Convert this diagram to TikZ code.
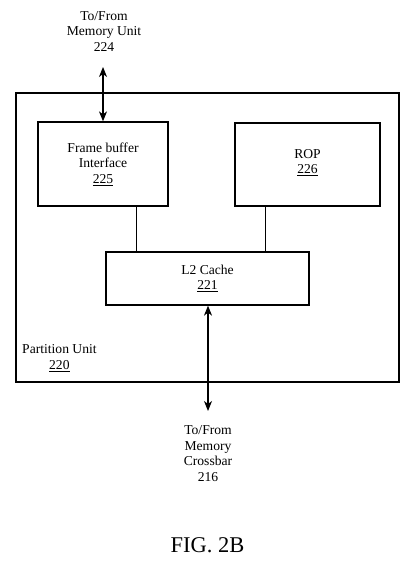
\documentclass[tikz,border=0pt]{standalone}
\usepackage{fontspec}
\setmainfont{Liberation Serif}
\usetikzlibrary{arrows.meta}
\begin{document}
\begin{tikzpicture}[x=1pt,y=-1pt,
  every node/.style={font=\fontsize{13.6}{15.5}\selectfont, align=center, inner sep=0pt},
  blk/.style={draw, line width=1.3pt, minimum width=#1},
  link/.style={line width=0.9pt},
  biarrow/.style={line width=1.1pt, {Stealth[length=10pt,width=8pt,inset=3pt]}-{Stealth[length=10pt,width=8pt,inset=3pt]}}]
\useasboundingbox (0,0) rectangle (408,581);
\node[blk=383pt, minimum height=289pt] (outer) at (207.5,237.5) {};
\node[blk=130pt, minimum height=84pt] (fb) at (103,164) {};
\node (fbtext) at (103,164) {Frame buffer\\Interface\\\underline{225}};
\node[blk=145pt, minimum height=83pt] (rop) at (307.5,164.5) {};
\node (roptext) at (307.5,162.5) {ROP\\\underline{226}};
\node[blk=203pt, minimum height=53pt] (l2) at (207.5,278.5) {};
\node (l2text) at (207.5,278.5) {L2 Cache\\\underline{221}};
\node[anchor=west, align=left] (pu) at (22,358) {Partition Unit\\\hspace*{27pt}\underline{220}};
\node (memunit) at (104,31.5) {To/From\\Memory Unit\\224};
\node (xbar) at (208,453.5) {To/From\\Memory\\Crossbar\\216};
\node[font=\fontsize{22.5}{26}\selectfont] (fig) at (207.5,545) {FIG. 2B};
\coordinate (topend) at (103,67);
\coordinate (botend) at (208,411);
\coordinate (c1) at (136,0);
\coordinate (c2) at (265,0);
\draw[biarrow] (topend) -- (fb.north);
\draw[biarrow] (l2.south -| botend) -- (botend);
\draw[link] (fb.south -| c1) -- (l2.north -| c1);
\draw[link] (rop.south -| c2) -- (l2.north -| c2);
\end{tikzpicture}
\end{document}
